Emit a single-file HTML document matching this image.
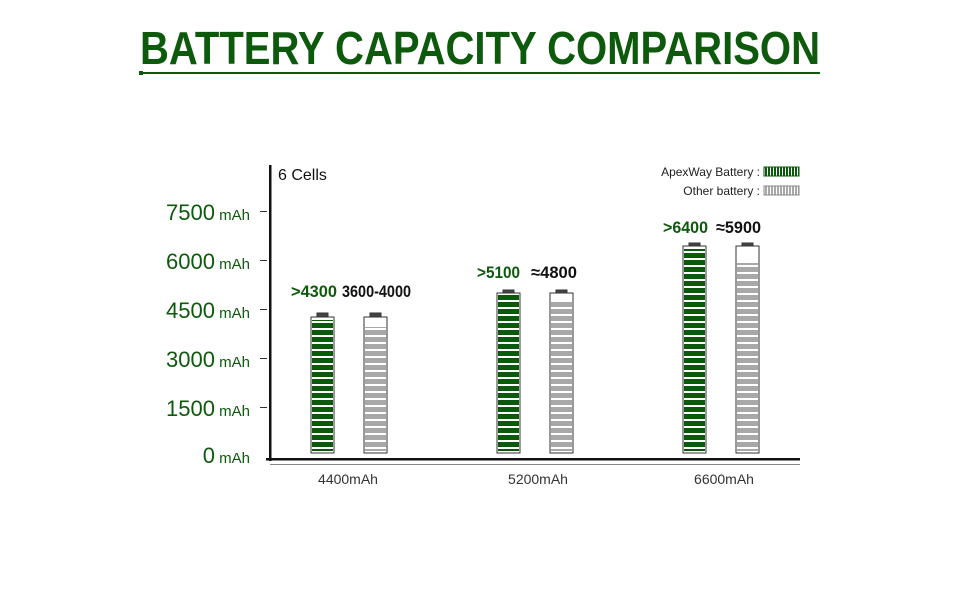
<!DOCTYPE html>
<html><head><meta charset="utf-8"><style>
body{margin:0;background:#fff;width:960px;height:600px;overflow:hidden}
svg{display:block}
text{font-family:"Liberation Sans",sans-serif}
</style></head><body>
<svg width="960" height="600" viewBox="0 0 960 600">
<defs>
<pattern id="g" width="10" height="7" patternUnits="userSpaceOnUse" y="1"><rect width="10" height="5" fill="#0b5a0b"/></pattern>
<pattern id="s" width="10" height="7" patternUnits="userSpaceOnUse" y="1"><rect width="10" height="5" fill="#a8a8a8"/></pattern>
<pattern id="lg" width="3" height="10" patternUnits="userSpaceOnUse"><rect width="2" height="10" fill="#0b5a0b"/></pattern>
<pattern id="ls" width="3" height="10" patternUnits="userSpaceOnUse"><rect width="2" height="10" fill="#a8a8a8"/></pattern>
</defs>
<text x="140" y="64" font-size="46" font-weight="bold" fill="#0d5a0d" textLength="680" lengthAdjust="spacingAndGlyphs">BATTERY CAPACITY COMPARISON</text>
<rect x="140" y="72" width="680" height="2" fill="#0d5a0d"/>
<rect x="139" y="71" width="4" height="4" fill="#0d5a0d"/>
<rect x="269" y="165" width="2.5" height="296" fill="#111"/>
<rect x="266" y="458" width="534" height="2.5" fill="#111"/>
<rect x="270" y="464" width="530" height="1" fill="#888"/>
<g fill="#333">
<rect x="260" y="211" width="7" height="1"/><rect x="260" y="260" width="7" height="1"/><rect x="260" y="309" width="7" height="1"/><rect x="260" y="358" width="7" height="1"/><rect x="260" y="407" width="7" height="1"/>
</g>
<g fill="#0d5a0d" text-anchor="end">
<text x="250" y="220"><tspan font-size="22">7500</tspan><tspan font-size="15"> mAh</tspan></text>
<text x="250" y="269"><tspan font-size="22">6000</tspan><tspan font-size="15"> mAh</tspan></text>
<text x="250" y="318"><tspan font-size="22">4500</tspan><tspan font-size="15"> mAh</tspan></text>
<text x="250" y="367"><tspan font-size="22">3000</tspan><tspan font-size="15"> mAh</tspan></text>
<text x="250" y="416"><tspan font-size="22">1500</tspan><tspan font-size="15"> mAh</tspan></text>
<text x="250" y="463"><tspan font-size="22">0</tspan><tspan font-size="15"> mAh</tspan></text>
</g>
<text x="278" y="180" font-size="16" fill="#111">6 Cells</text>
<text x="760" y="176" font-size="12" fill="#222" text-anchor="end">ApexWay Battery :</text>
<text x="760" y="195" font-size="12" fill="#222" text-anchor="end">Other battery :</text>
<rect x="764" y="167" width="35" height="9" fill="url(#lg)" stroke="#0b5a0b"/>
<rect x="764" y="186" width="35" height="9" fill="url(#ls)" stroke="#888"/>
<g font-size="17" font-weight="bold" lengthAdjust="spacingAndGlyphs">
<text x="291" y="297" fill="#0d5a0d" textLength="46" lengthAdjust="spacingAndGlyphs">&gt;4300</text><text x="342" y="297" fill="#111" textLength="69" lengthAdjust="spacingAndGlyphs">3600-4000</text>
<text x="477" y="278" fill="#0d5a0d" textLength="43" lengthAdjust="spacingAndGlyphs">&gt;5100</text><text x="531" y="278" fill="#111" textLength="46" lengthAdjust="spacingAndGlyphs">≈4800</text>
<text x="663" y="233" fill="#0d5a0d" textLength="45" lengthAdjust="spacingAndGlyphs">&gt;6400</text><text x="716" y="233" fill="#111" textLength="45" lengthAdjust="spacingAndGlyphs">≈5900</text>
</g>
<g stroke="#333" stroke-width="1">
<rect x="317" y="313" width="11" height="4" fill="#444"/><rect x="370" y="313" width="11" height="4" fill="#444"/>
<rect x="311" y="317" width="23" height="136" fill="#fff"/><rect x="364" y="317" width="23" height="136" fill="#fff"/>
<rect x="503" y="290" width="11" height="4" fill="#444"/><rect x="556" y="290" width="11" height="4" fill="#444"/>
<rect x="497" y="293" width="23" height="160" fill="#fff"/><rect x="550" y="293" width="23" height="160" fill="#fff"/>
<rect x="689" y="243" width="11" height="4" fill="#444"/><rect x="742" y="243" width="11" height="4" fill="#444"/>
<rect x="683" y="246" width="23" height="207" fill="#fff"/><rect x="736" y="246" width="23" height="207" fill="#fff"/>
</g>
<rect x="312" y="320" width="21" height="131" fill="url(#g)"/>
<rect x="365" y="327" width="21" height="124" fill="url(#s)"/>
<rect x="498" y="295" width="21" height="156" fill="url(#g)"/>
<rect x="551" y="302" width="21" height="149" fill="url(#s)"/>
<rect x="684" y="249" width="21" height="202" fill="url(#g)"/>
<rect x="737" y="263" width="21" height="188" fill="url(#s)"/>
<g font-size="14" fill="#333" text-anchor="middle">
<text x="348" y="484">4400mAh</text><text x="538" y="484">5200mAh</text><text x="724" y="484">6600mAh</text>
</g>
</svg>
</body></html>
